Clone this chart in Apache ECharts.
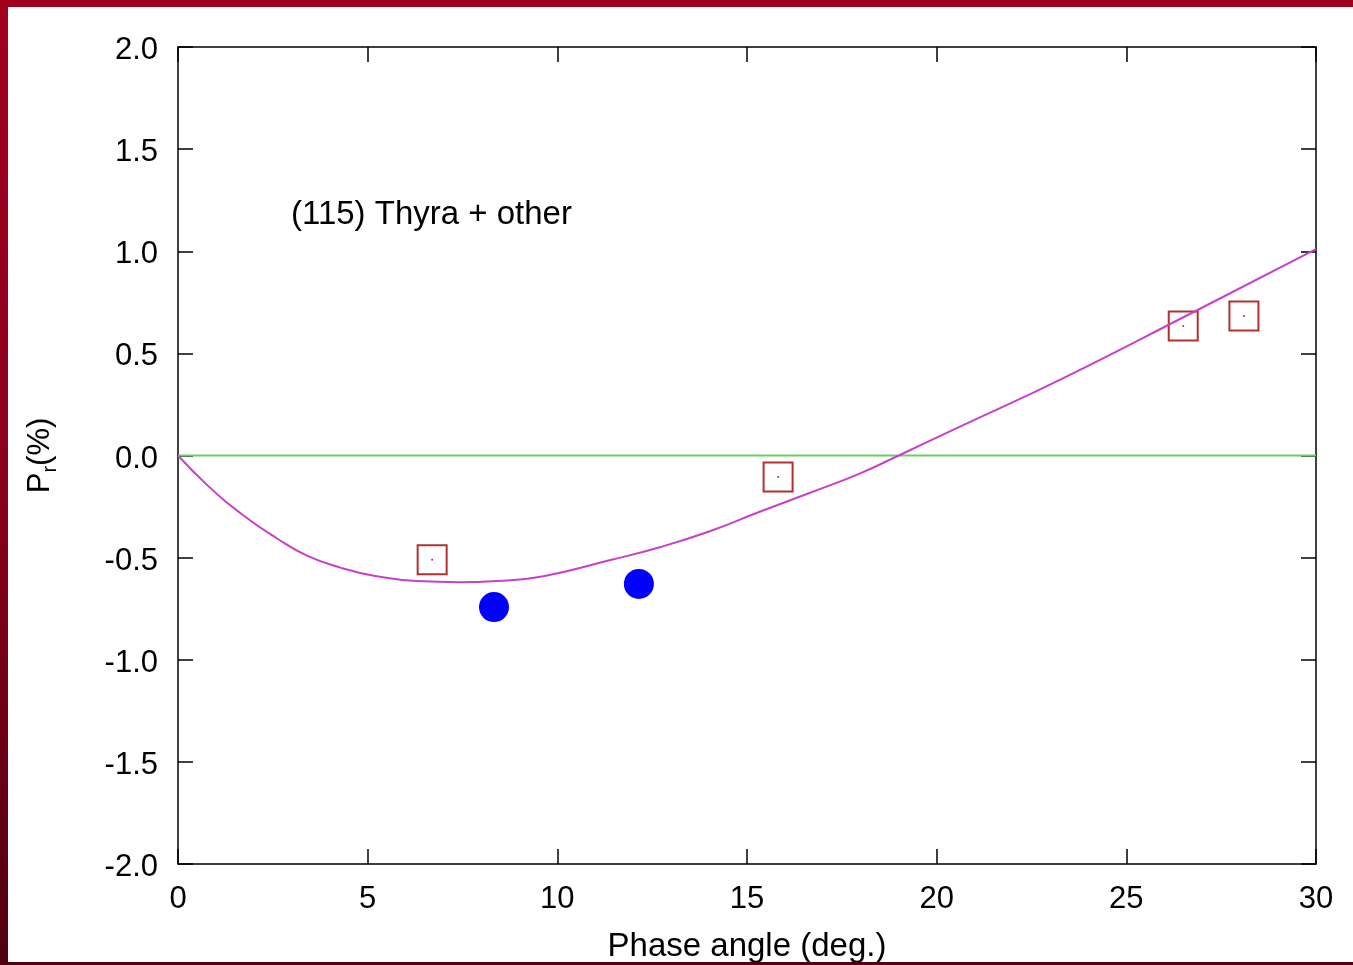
<!DOCTYPE html>
<html>
<head>
<meta charset="utf-8">
<script src="https://cdn.jsdelivr.net/npm/echarts@6/dist/echarts.min.js"></script>
<style>
html,body{margin:0;padding:0;width:1353px;height:965px;overflow:hidden;}
body{background:linear-gradient(to bottom,#a0001e 0%,#8a0019 50%,#50000f 100%);position:relative;}
#chart{position:absolute;left:8px;top:7px;width:1345px;height:955px;background:#ffffff;}
</style>
</head>
<body>
<div id="chart"></div>
<script>
// Tick labels
const xTicks = [0, 5, 10, 15, 20, 25, 30];
const yTicks = [-2.0, -1.5, -1.0, -0.5, 0.0, 0.5, 1.0, 1.5, 2.0];
// Fitted phase curve
const curvePhase = [0, 0.8, 1.7, 2.6, 3.4, 4.3, 5.2, 6.3, 7.4, 8.4, 9.6, 11.4, 12.7, 14.0, 15.3, 16.7, 18.0, 19.0, 20.6, 23.3, 26.8, 30];
const curvePol   = [0, -0.15, -0.29, -0.405, -0.49, -0.55, -0.59, -0.615, -0.62, -0.614, -0.592, -0.512, -0.449, -0.372, -0.278, -0.18, -0.086, 0.0, 0.14, 0.375, 0.705, 1.01];
// Zero reference line
const zeroPhase = [0, 30];
const zeroPol = [0, 0];
// Other observations (open squares)
const otherPhase = [6.7, 15.82, 26.5, 28.1];
const otherPol = [-0.51, -0.105, 0.634, 0.683];
// Thyra observations (filled circles)
const thyraPhase = [8.33, 12.15];
const thyraPol = [-0.742, -0.629];
const annotation = '(115) Thyra + other';

const zip = (a, b) => a.map((v, i) => [v, b[i]]);
const FONT = '"Liberation Sans", Arial, Helvetica, sans-serif';
const chart = echarts.init(document.getElementById('chart'));

const axisCommon = {
  axisLine: { show: true, onZero: false, lineStyle: { color: '#000', width: 1.5 } },
  axisTick: { show: true, inside: true, length: 15, lineStyle: { color: '#000', width: 1.5 } },
  splitLine: { show: false }
};

chart.setOption({
  backgroundColor: '#ffffff',
  animation: false,
  grid: { left: 170, right: 37, top: 40, bottom: 98, containLabel: false, outerBoundsMode: 'none' },
  xAxis: [
    Object.assign({
      type: 'value', min: 0, max: 30, interval: 5, position: 'bottom',
      name: 'Phase angle (deg.)', nameLocation: 'middle', nameGap: 66,
      nameTextStyle: { fontFamily: FONT, fontSize: 33, color: '#000' },
      axisLabel: { fontFamily: FONT, fontSize: 31, color: '#000', margin: 20,
        formatter: v => xTicks.includes(v) ? String(v) : '' }
    }, axisCommon),
    Object.assign({
      type: 'value', min: 0, max: 30, interval: 5, position: 'top',
      axisLabel: { show: false }
    }, axisCommon)
  ],
  yAxis: [
    Object.assign({
      type: 'value', min: -2, max: 2, interval: 0.5, position: 'left',
      name: '{a|P}{b|r}{a|(%)}', nameLocation: 'middle', nameGap: 118, nameRotate: 90,
      nameTextStyle: {
        fontFamily: FONT, fontSize: 31, color: '#000',
        rich: {
          a: { fontFamily: FONT, fontSize: 31, color: '#000', lineHeight: 40, verticalAlign: 'middle' },
          b: { fontFamily: FONT, fontSize: 20, color: '#000', lineHeight: 40, verticalAlign: 'bottom', padding: [12, 0, 0, 0] }
        }
      },
      axisLabel: { fontFamily: FONT, fontSize: 31, color: '#000', margin: 20,
        formatter: v => yTicks.includes(v) ? '{v|' + v.toFixed(1) + '}' : '',
        rich: { v: { fontFamily: FONT, fontSize: 31, color: '#000', padding: [7, 0, 0, 0] } } }
    }, axisCommon),
    Object.assign({
      type: 'value', min: -2, max: 2, interval: 0.5, position: 'right',
      axisLabel: { show: false }
    }, axisCommon)
  ],
  graphic: [{
    type: 'text', left: 283, top: 191,
    style: { text: annotation, font: '33px ' + FONT, fill: '#000' }
  }],
  series: [
    {
      type: 'line', data: zip(zeroPhase, zeroPol), symbol: 'none',
      lineStyle: { color: '#66d066', width: 2 }, z: 2
    },
    {
      type: 'scatter', data: zip(otherPhase, otherPol), symbol: 'rect', symbolSize: 29,
      itemStyle: { color: 'rgba(0,0,0,0)', borderColor: '#b3302f', borderWidth: 2, opacity: 1 }, z: 3
    },
    {
      type: 'scatter', data: zip(otherPhase, otherPol), symbol: 'circle', symbolSize: 2,
      itemStyle: { color: '#b3302f', opacity: 1 }, z: 3
    },
    {
      type: 'line', data: zip(curvePhase, curvePol), symbol: 'none', smooth: 0.5,
      lineStyle: { color: '#c840c8', width: 2 }, z: 4
    },
    {
      type: 'scatter', data: zip(thyraPhase, thyraPol), symbol: 'circle', symbolSize: 30,
      itemStyle: { color: '#0000ff', opacity: 1 }, z: 5
    }
  ]
});
</script>
</body>
</html>
